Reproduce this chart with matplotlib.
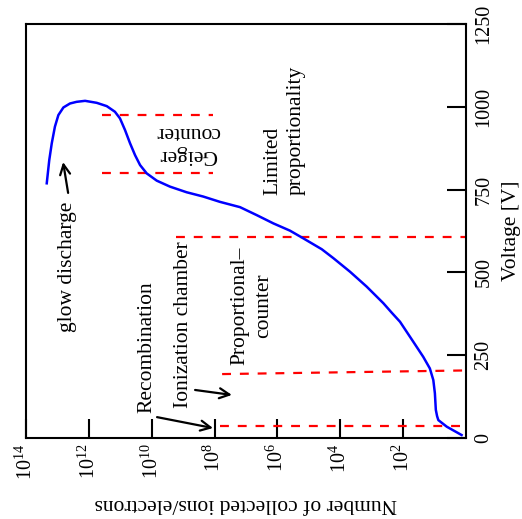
import numpy as np
import matplotlib
matplotlib.use("Agg")
import matplotlib.pyplot as plt

plt.rcParams['font.family'] = ['Liberation Serif', 'DejaVu Serif']
plt.rcParams['mathtext.fontset'] = 'custom'
plt.rcParams['mathtext.rm'] = 'Liberation Serif'
plt.rcParams['mathtext.it'] = 'Liberation Serif:italic'

# curve: exponent of collected charges vs. voltage
curve_exp = [0.14, 0.61, 0.88, 0.92, 0.96, 0.99, 1.04, 1.15, 1.36, 1.68,
             1.89, 2.10, 2.36, 2.63, 3.16, 3.69, 4.22, 4.59, 5.18, 5.60,
             6.13, 6.66, 7.19, 7.83, 8.36, 8.89, 9.42, 9.84, 10.16, 10.37,
             10.53, 10.69, 10.85, 11.01, 11.17, 11.43, 11.75, 12.12, 12.39,
             12.60, 12.81, 12.97, 13.08, 13.18, 13.26, 13.34]
curve_volt = [9, 34, 54, 66, 85, 135, 175, 210, 245, 291,
              321, 351, 378, 407, 457, 502, 543, 570, 603, 626,
              648, 673, 697, 713, 729, 742, 759, 777, 799, 824,
              854, 890, 930, 965, 985, 1002, 1012, 1018, 1015,
              1010, 998, 975, 940, 890, 839, 769]

# region borders (red dashed): start exponent, end exponent, start volt, end volt
border_x0 = [7.83, 7.76, 9.23, 11.58, 11.58]
border_x1 = [0.0, 0.0, 0.0, 8.05, 8.05]
border_v0 = [37, 193, 607, 975, 800]
border_v1 = [37, 204, 607, 975, 800]

n_ticks = [14, 12, 10, 8, 6, 4, 2]
v_ticks = [0, 250, 500, 750, 1000, 1250]

fig = plt.figure(figsize=(5.22, 5.19), dpi=100)
ax = fig.add_axes([26/522, 81/519, 440/522, 414/519])

ax.plot(10.0**np.array(curve_exp), curve_volt, color='#0000ff', lw=1.8,
        solid_joinstyle='round', zorder=3)

for a, b, c, d in zip(border_x0, border_x1, border_v0, border_v1):
    ax.plot([10.0**a, 10.0**b], [c, d], color='#ff0000', lw=1.6,
            dashes=(4, 4), zorder=2)

ax.set_xscale('log')
ax.set_xlim(1e14, 1)
ax.set_ylim(0, 1250)
ax.set_xticks([10.0**e for e in n_ticks])
ax.set_xticklabels([f'$10^{{{e}}}$' for e in n_ticks])
ax.xaxis.set_minor_locator(matplotlib.ticker.NullLocator())
ax.set_yticks(v_ticks)
ax.yaxis.tick_right()
ax.yaxis.set_label_position('right')

ax.tick_params(axis='both', direction='in', length=14, width=1.5,
               labelsize=14.5)
ax.tick_params(axis='x', labelrotation=90, pad=4)
ax.tick_params(axis='y', labelrotation=90, pad=6)
for lab in ax.get_xticklabels():
    lab.set_va('top')
for lab in ax.get_yticklabels():
    lab.set_va('center')
for s in ax.spines.values():
    s.set_linewidth(1.5)

ax.set_xlabel('Number of collected ions/electrons', fontsize=15.5,
              rotation=180, labelpad=10)
ax.set_ylabel('Voltage [V]', fontsize=15.5, rotation=90, labelpad=6)

fs = 15.5
ax.text(10**10.15, 275, 'Recombination', rotation=90, ha='center',
        va='center', fontsize=fs)
ax.text(10**9.0, 341, 'Ionization chamber', rotation=90, ha='center',
        va='center', fontsize=fs)
ax.text(10**6.81, 399, 'Proportional–\ncounter', rotation=90, ha='center',
        va='center', fontsize=fs, multialignment='center', linespacing=1.3)
ax.text(10**5.76, 930, 'Limited\nproportionality', rotation=90, ha='center',
        va='center', fontsize=fs, multialignment='left', linespacing=1.3)
ax.text(10**8.85, 891, 'Geiger\ncounter', rotation=180, ha='center',
        va='center', fontsize=fs, multialignment='center', linespacing=1.3)
ax.text(10**12.69, 516, 'glow discharge', rotation=90, ha='center',
        va='center', fontsize=fs)

arrow = dict(arrowstyle='->', color='black', lw=1.6, mutation_scale=18,
             shrinkA=0, shrinkB=0)
ax.annotate('', xy=(10**8.05, 30), xytext=(10**9.83, 63), arrowprops=arrow)
ax.annotate('', xy=(10**7.45, 130), xytext=(10**8.62, 145), arrowprops=arrow)
ax.annotate('', xy=(10**12.82, 833), xytext=(10**12.66, 740), arrowprops=arrow)

fig.savefig('out.png', dpi=100)
